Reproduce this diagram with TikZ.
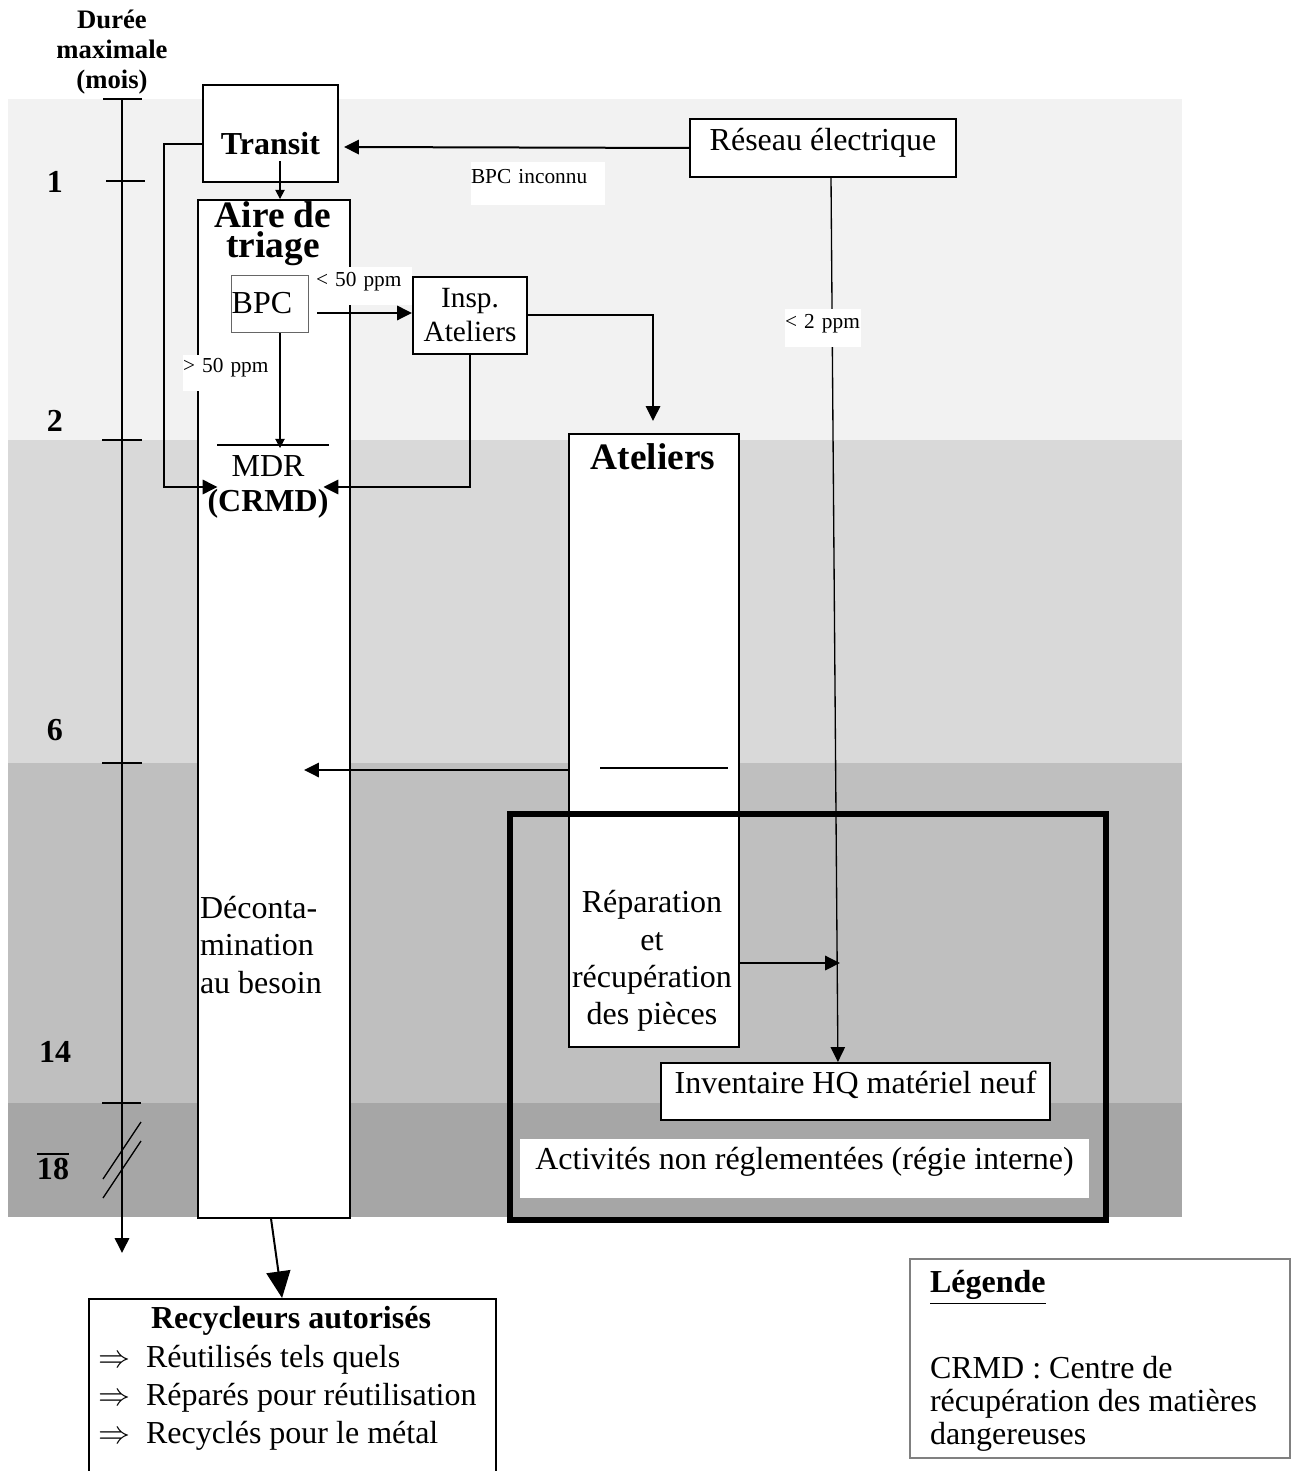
\documentclass[tikz,border=0pt]{standalone}
\usepackage{fontspec}
\setmainfont{Liberation Serif}
\usepackage{tikz}
\usetikzlibrary{arrows.meta}
\definecolor{bandun}{RGB}{242,242,242}
\definecolor{banddeux}{RGB}{217,217,217}
\definecolor{bandtrois}{RGB}{191,191,191}
\definecolor{bandquatre}{RGB}{166,166,166}
\definecolor{legris}{RGB}{128,128,128}

\begin{document}
\begin{tikzpicture}[x=0.375pt, y=-0.375pt, line width=0.75pt,
    every node/.style={font=\fontsize{12}{14}\selectfont, inner sep=0pt},
    box/.style={draw, fill=white},
    tag/.style={fill=white, align=left, font=\fontsize{8}{9}\selectfont},
    num/.style={font=\bfseries\fontsize{12}{14}\selectfont},
    fl/.style={-{Triangle[length=5.6pt,width=5.4pt]}},
    fin/.style={line width=0.4pt, -{Triangle[length=3.4pt,width=3.5pt]}},
    gros/.style={-{Triangle[length=10pt,width=9pt]}}]
  \useasboundingbox (0,0) rectangle (1291,1471);
  % bandes de duree
  \foreach \a/\b/\c in {99/440/bandun, 440/763/banddeux, 763/1103/bandtrois, 1103/1217/bandquatre}
    \fill[\c] (8,\a) rectangle (1182,\b);

  % echelle des mois
  \node[font=\bfseries\fontsize{10}{11.25}\selectfont, align=center] (duree) at (112,52) {Durée\\maximale\\(mois)};
  \draw[fl] (122,99) -- (122,1253);
  \foreach \y/\a/\b in {99/103/142, 181/106/145, 440/102/142, 763/102/142, 1103/102/141}
    \draw (\a,\y) -- (\b,\y);
  \foreach \y/\n in {193/1, 432/2, 740/6, 1062/14}
    \node[num, anchor=base] (mois\n) at (55,\y) {\n};
  \node[num, anchor=base] (mois18) at (53,1179) {$\overline{\mbox{18}}$};
  \draw[line width=0.5pt] (141,1122) -- (103,1179) (141,1141) -- (103,1198);

  % colonnes
  \node[box, anchor=north west, minimum width=57pt, minimum height=381.75pt] (aire) at (197,199) {};
  \node[box, anchor=north west, minimum width=63.75pt, minimum height=229.9pt] (atel) at (568,433) {};
  \node[font=\bfseries\fontsize{14}{11.3}\selectfont, align=center] (airetxt) at (273,234) {Aire de\\triage};
  \node[font=\bfseries\fontsize{14}{16}\selectfont, anchor=base] (ateltxt) at (653,470) {Ateliers};
  \node[anchor=west, align=left, font=\fontsize{12}{13.9}\selectfont] (decon) at (199,945) {Déconta-\\mination\\au besoin};
  \node[align=center] (repar) at (652,961) {Réparation\\et\\récupération\\des pièces};
  \draw (600,768) -- (728,768);

  % boites
  \node[box, anchor=north west, minimum width=50.6pt, text height=25.9pt, text depth=10.5pt, font=\bfseries\fontsize{12}{14}\selectfont] (transit) at (202,84) {Transit};
  \node[box, anchor=north west, minimum width=99.75pt, text height=12pt, text depth=9.75pt] (reseau) at (689,118) {Réseau électrique};
  \node[box, draw=black!60, line width=0.5pt, anchor=north west, text width=28.9pt, align=left, text height=14.25pt, text depth=7.1pt] (bpc) at (231,275) {BPC};
  \node[box, minimum width=42.75pt, minimum height=28.9pt, align=center, font=\fontsize{11}{12.75}\selectfont] (insp) at (470,315.5) {Insp.\\Ateliers};
  \node[align=center, font=\fontsize{12}{13.1}\selectfont] (mdr) at (268,487) {MDR\\\textbf{(CRMD)}};
  \draw[line width=0.5pt] (217,445) -- (329,445);
  \node[box, anchor=north west, minimum width=145.9pt, text height=11.6pt, text depth=9.75pt] (inv) at (660,1062) {Inventaire HQ matériel neuf};
  \node[box, anchor=north west, minimum width=152.6pt, minimum height=70pt] (recyc) at (88,1298) {};
  \node[font=\bfseries\fontsize{12}{14}\selectfont, anchor=base] (recyctitre) at (291,1328) {Recycleurs autorisés};
  \foreach \t [count=\i] in {Réutilisés tels quels, Réparés pour réutilisation, Recyclés pour le métal}
    \node[anchor=base west] (choix\i) at (97,1329+38*\i) {\makebox[18pt][l]{$\Rightarrow$}\t};
  \node[box, draw=legris, anchor=north west, minimum width=142.5pt, minimum height=74.6pt] (legende) at (909,1258) {};
  \node[anchor=west, align=left, font=\fontsize{12}{12.4}\selectfont] (legtxt) at (929,1361) {\underline{\textbf{Légende}}\\[18.35pt]CRMD : Centre de\\récupération des matières\\dangereuses};

  % regie interne
  \draw[line width=1.9pt] (510,814) rectangle (1106,1220);

  % fleches
  \coordinate (tdep) at (280,161);
  \coordinate (mdrhaut) at (280,448);
  \coordinate (bpcsort) at (317,313);
  \coordinate (atelhaut) at (653,421);
  \coordinate (decpt) at (304,770);
  \coordinate (reppt) at (840,963);
  \coordinate (transin) at (344,147);
  \draw[fl] (reseau.west) -- (transin);
  \draw[fin] (tdep) -- (tdep |- aire.north);
  \draw[fl] ([yshift=-3.9pt]transit.west) -- ++(-38,0) |- ([xshift=4.1pt]mdr.west);
  \draw[fin] (bpc.south -| mdrhaut) -- (mdrhaut);
  \draw[fl] (bpcsort) -- (bpcsort -| insp.west);
  \draw[fl] (insp.south) |- ([xshift=-2.25pt]mdr.east);
  \draw[fl] (insp.east) -| (atelhaut);
  \draw[fl] (decpt -| atel.west) -- (decpt);
  \draw[fl, line width=0.5pt] ([xshift=3pt]reseau.south) -- ([xshift=-6.6pt]inv.north);
  \draw[fl] (reppt -| atel.east) -- (reppt);
  \draw[gros] ([xshift=-1.1pt]aire.south) -- ([xshift=-3.9pt]recyc.north);

  % etiquettes
  \node[tag, anchor=north west, text width=50.25pt, text height=7.9pt, text depth=8.25pt] (inconnu) at (470,161) {BPC inconnu};
  \node[tag, anchor=north west, text width=36pt, text height=7.5pt, text depth=6.75pt] (moins50) at (315,266) {< 50 ppm};
  \node[tag, anchor=north west, text width=35pt, text height=6.75pt, text depth=6.75pt] (plus50) at (182,354) {> 50 ppm};
  \node[tag, anchor=north west, text width=28.5pt, text height=7.5pt, text depth=6.75pt] (moins2) at (784,308) {< 2 ppm};
  \node[fill=white, anchor=north west, minimum width=213.4pt, text height=11.25pt, text depth=10.9pt] (activ) at (519,1138) {Activités non réglementées (régie interne)};
\end{tikzpicture}
\end{document}
